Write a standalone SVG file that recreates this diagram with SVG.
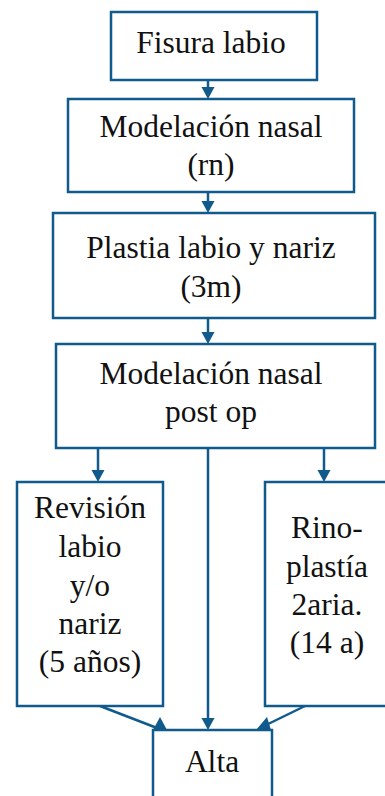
<svg xmlns="http://www.w3.org/2000/svg" width="385" height="796" viewBox="0 0 385 796">
<style>
.box{fill:#fff;stroke:#105a8c;stroke-width:2.5}
.t{font-family:'Liberation Serif','Tinos','Times New Roman','DejaVu Serif',serif;font-size:31.5px;fill:#111;text-anchor:middle}
.ln{stroke:#105a8c;stroke-width:2.5;fill:none}
.ah{fill:#105a8c}
</style>
<rect width="385" height="796" fill="#fff"/>
<g id="connectors">
<line class="ln" x1="208" y1="80" x2="208" y2="88"/>
<polygon class="ah" points="201.5,87 214.5,87 208,99"/>
<line class="ln" x1="208" y1="192" x2="208" y2="202"/>
<polygon class="ah" points="201.5,201 214.5,201 208,213"/>
<line class="ln" x1="208" y1="318" x2="208" y2="333"/>
<polygon class="ah" points="201.5,332 214.5,332 208,344"/>
<line class="ln" x1="98" y1="448" x2="98" y2="471"/>
<polygon class="ah" points="91.5,470 104.5,470 98,482"/>
<line class="ln" x1="324" y1="448" x2="324" y2="471"/>
<polygon class="ah" points="317.5,470 330.5,470 324,482"/>
<line class="ln" x1="208" y1="448" x2="208" y2="719"/>
<polygon class="ah" points="201.5,718 214.5,718 208,730"/>
<line class="ln" x1="100" y1="706" x2="157" y2="728"/>
<polygon class="ah" points="153,730 160,717 167,730"/>
<line class="ln" x1="305" y1="706" x2="262" y2="727"/>
<polygon class="ah" points="256,730 267,717 271,730"/>
</g>
<g id="n1"><rect class="box" x="111" y="12" width="206" height="68"/><text class="t" font-family="Liberation Serif, serif" x="211" y="53">Fisura labio</text></g>
<g id="n2"><rect class="box" x="68" y="99" width="286" height="93"/><text class="t" x="211" y="137">Modelación nasal</text><text class="t" x="211" y="175">(rn)</text></g>
<g id="n3"><rect class="box" x="53" y="213" width="322" height="105"/><text class="t" x="211" y="258">Plastia labio y nariz</text><text class="t" x="211" y="297">(3m)</text></g>
<g id="n4"><rect class="box" x="56" y="344" width="319" height="104"/><text class="t" x="211" y="384">Modelación nasal</text><text class="t" x="211" y="422">post op</text></g>
<g id="n5"><rect class="box" x="17" y="482" width="146" height="224"/><text class="t" x="90" y="518">Revisión</text><text class="t" x="90" y="557">labio</text><text class="t" x="90" y="596">y/o</text><text class="t" x="90" y="634">nariz</text><text class="t" x="90" y="672">(5 años)</text></g>
<g id="n6"><rect class="box" x="265" y="482" width="124" height="224"/><text class="t" x="327" y="538">Rino-</text><text class="t" x="327" y="577">plastía</text><text class="t" x="327" y="615">2aria.</text><text class="t" x="327" y="653">(14 a)</text></g>
<g id="n7"><rect class="box" x="153" y="730" width="119" height="80"/><text class="t" x="212" y="772">Alta</text></g>
</svg>
